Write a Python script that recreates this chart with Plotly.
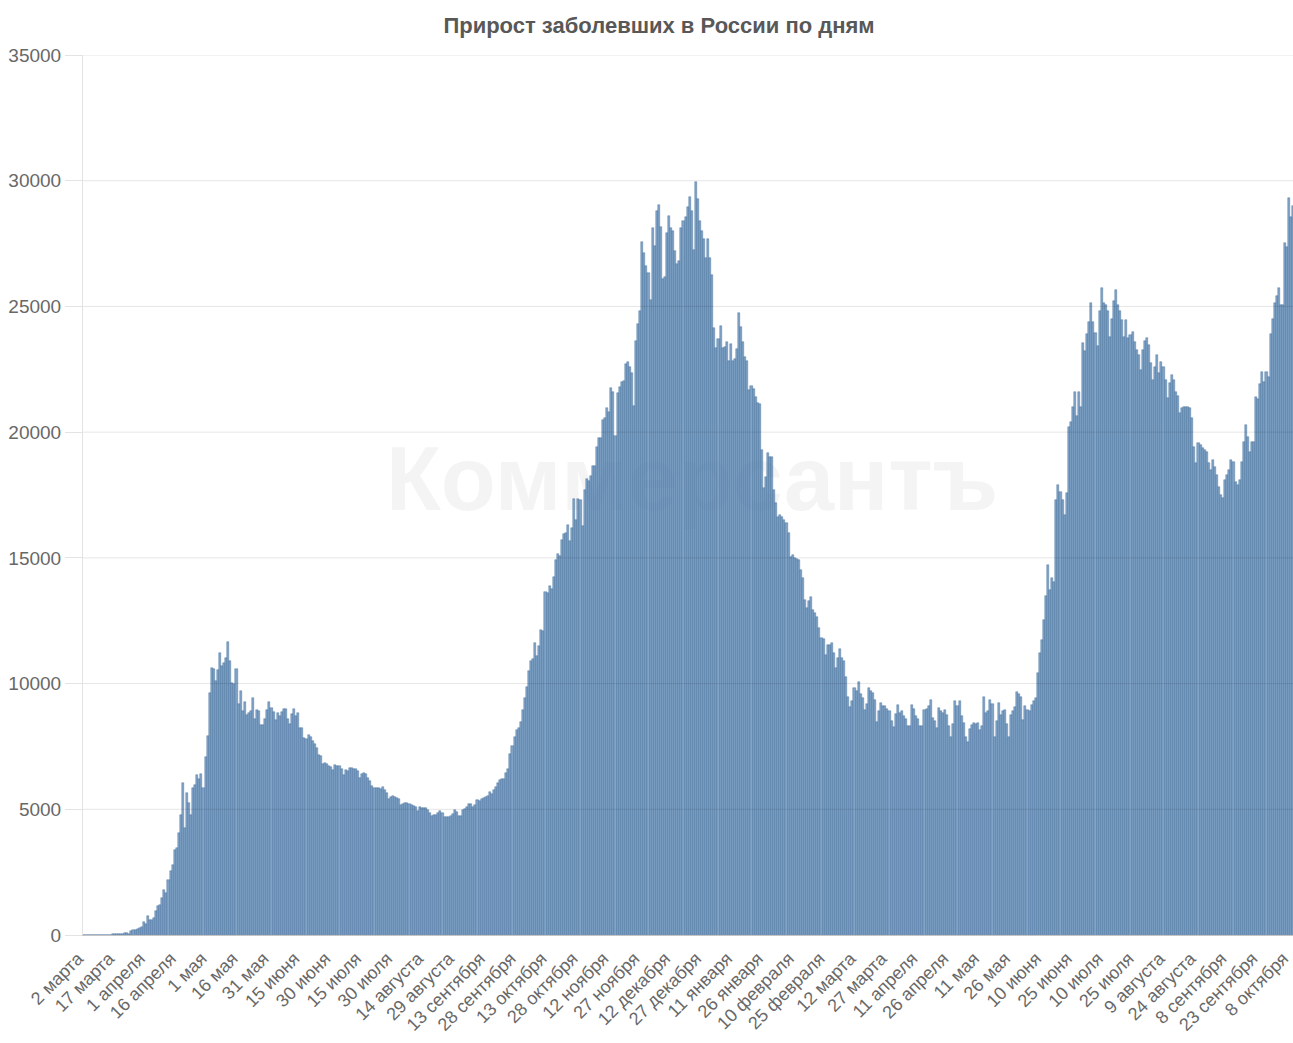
import pandas as pd
import plotly.graph_objects as go

# Daily new cases in Russia, 2 March 2020 - 10 October 2021
mar_2020 = [3, 0, 0, 1, 6, 0, 3, 0, 3, 8, 6, 17, 14, 4, 30, 21, 33, 52, 54, 53, 61, 71, 57, 163, 182, 196, 228, 270, 302, 501]
apr_2020 = [440, 771, 601, 582, 658, 954, 1154, 1175, 1459, 1786, 1667, 2186, 2558, 2774, 3388, 3448, 4070, 4785, 6060, 4268,
            5642, 5236, 4774, 5849, 5966, 6361, 6198, 6411, 5841, 7099]
may_2020 = [7933, 9623, 10633, 10581, 10102, 10559, 11231, 10699, 10817, 11012, 11656, 10899, 10028, 9974, 10598, 9200,
            9709, 8926, 9263, 8764, 8849, 8894, 9434, 8599, 8946, 8915, 8338, 8371, 8572, 8952, 9268]
jun_2020 = [9035, 8863, 8536, 8831, 8726, 8855, 8984, 8985, 8595, 8404, 8779, 8987, 8706, 8835, 8246, 8248, 7843, 7790,
            7972, 7889, 7728, 7600, 7425, 7176, 7113, 6800, 6852, 6791, 6719, 6693]
jul_2020 = [6556, 6760, 6718, 6736, 6611, 6368, 6562, 6509, 6635, 6632, 6615, 6611, 6537, 6248, 6422, 6428, 6406, 6234,
            6109, 5940, 5842, 5862, 5848, 5811, 5871, 5765, 5635, 5395, 5475, 5509, 5482]
aug_2020 = [5462, 5427, 5159, 5204, 5267, 5241, 5212, 5189, 5118, 5102, 4945, 5102, 5057, 5065, 5061, 4969, 4839, 4748,
            4790, 4767, 4870, 4921, 4852, 4696, 4676, 4711, 4747, 4829, 4980, 4897, 4729]
sep_2020 = [4729, 4952, 4995, 5110, 5205, 5195, 5099, 5185, 5363, 5310, 5406, 5449, 5488, 5509, 5670, 5615, 5762, 5905,
            6065, 6148, 6196, 6215, 6431, 6595, 7212, 7523, 7867, 8135, 8232, 8481]
oct_2020 = [8945, 9412, 9859, 10499, 10888, 10980, 11615, 11115, 11493, 12126, 12100, 13634, 13592, 13868, 13754, 14231,
            14922, 15150, 15090, 15700, 15950, 15971, 16319, 15680, 16202, 17340, 16521, 17347, 17300, 16250, 17717]
nov_2020 = [18140, 18070, 18257, 18648, 18665, 19404, 19768, 19770, 20498, 20582, 20977, 20800, 21760, 21608, 19851,
            21550, 21798, 21983, 22050, 22702, 22778, 22572, 22350, 21050, 23610, 24318, 24822, 27543, 27130, 26610]
dec_2020 = [26320, 25260, 28120, 27403, 28782, 29039, 28142, 26097, 26190, 27927, 28585, 28137, 28000, 27200, 26689,
            26809, 28120, 28380, 28552, 28948, 29350, 28800, 27250, 29935, 29258, 28380, 28000, 27700, 26930, 27700, 26930]
jan_2021 = [26250, 24140, 23350, 23700, 24220, 23350, 23400, 23600, 22840, 23490, 22820, 22900, 23300, 24740, 24200,
            23600, 23000, 22820, 21680, 21840, 21700, 21410, 21150, 21100, 19290, 17780, 18200, 19190, 19000, 19000, 17700]
feb_2021 = [17200, 16640, 16700, 16640, 16500, 16370, 15990, 15050, 15100, 15000, 14950, 14900, 14500, 14200, 13330,
            13000, 13300, 13430, 12930, 12800, 12660, 12200, 11800, 11770, 11140, 11530, 11530, 11600]
mar_2021 = [11200, 10620, 11000, 11370, 11010, 10900, 10270, 9480, 9080, 9300, 9820, 9700, 10080, 9600, 9420, 8950,
            9200, 9820, 9700, 9620, 9360, 8490, 8900, 9220, 9100, 9120, 9000, 8900, 8500, 8290, 8800]
apr_2021 = [9160, 8830, 8900, 8700, 8600, 8320, 8300, 9160, 9000, 8700, 8600, 8320, 8300, 8950, 9000, 9100, 9360, 8630,
            8500, 8230, 9020, 8900, 8830, 8950, 8760, 8300, 7890, 8400, 9290, 9100]
may_2021 = [9290, 8700, 8430, 7890, 7690, 8200, 8370, 8430, 8400, 8430, 8170, 8300, 9480, 8830, 8900, 9360, 9200, 7890,
            8500, 9220, 8760, 8900, 8950, 8400, 7890, 8760, 8900, 9080, 9680, 9600, 9480]
jun_2021 = [8560, 9100, 8950, 8900, 9160, 9300, 9420, 10420, 11200, 11730, 12530, 13500, 14720, 13720, 14190, 14050,
            17300, 17900, 17600, 17300, 16700, 17560, 20220, 20420, 21000, 21610, 20630, 21610, 21010, 23540]
jul_2021 = [23210, 23900, 24400, 25130, 24400, 23940, 23410, 24800, 25720, 25130, 25060, 24800, 23800, 24500, 25200,
            25660, 25060, 24800, 24470, 23800, 24470, 23740, 23870, 24000, 23600, 23280, 23070, 22470, 23280, 23610, 23740]
aug_2021 = [23470, 22740, 22080, 22600, 23070, 22340, 22800, 22600, 22080, 21360, 21950, 22280, 22080, 21580, 21420,
            20750, 20950, 21020, 21020, 21000, 20950, 20550, 19420, 18770, 19550, 19490, 19360, 19300, 19230, 18770, 18500]
sep_2021 = [18900, 18600, 18300, 17800, 17500, 17400, 18100, 18300, 18500, 18900, 18800, 18000, 17900, 18100, 18800,
            19600, 20300, 19800, 19200, 19600, 19600, 21400, 21300, 21900, 22400, 22000, 22400, 22200, 23900, 24500]
oct_2021 = [25130, 25400, 25720, 25060, 25060, 27510, 27380, 29300, 28570, 29000]

tick_labels = ["2 марта", "17 марта", "1 апреля", "16 апреля", "1 мая", "16 мая", "31 мая", "15 июня", "30 июня",
               "15 июля", "30 июля", "14 августа", "29 августа", "13 сентября", "28 сентября", "13 октября",
               "28 октября", "12 ноября", "27 ноября", "12 декабря", "27 декабря", "11 января", "26 января",
               "10 февраля", "25 февраля", "12 марта", "27 марта", "11 апреля", "26 апреля", "11 мая", "26 мая",
               "10 июня", "25 июня", "10 июля", "25 июля", "9 августа", "24 августа", "8 сентября",
               "23 сентября", "8 октября"]

y_ticks = [0, 5000, 10000, 15000, 20000, 25000, 30000, 35000]
watermark = "Коммерсантъ"

values = (mar_2020 + apr_2020 + may_2020 + jun_2020 + jul_2020 + aug_2020 + sep_2020 + oct_2020 + nov_2020 + dec_2020
          + jan_2021 + feb_2021 + mar_2021 + apr_2021 + may_2021 + jun_2021 + jul_2021 + aug_2021 + sep_2021 + oct_2021)
start = pd.Timestamp("2020-03-02")
dates = pd.date_range(start, periods=len(values), freq="D")
tick_dates = list(dates[::15][:len(tick_labels)])

W, H = 1293, 1043
ML, MR, MT, MB = 83, 0, 55, 108
n_visible = (W - ML - MR) / 2.06
x_range = [start - pd.Timedelta(hours=12), start + pd.Timedelta(days=n_visible - 0.5)]

FONT = "Liberation Sans, Arial, sans-serif"
TICK_COLOR = "#686868"

fig = go.Figure()
# watermark on the base (hidden) subplot so that the bars cover it
fig.add_trace(go.Scatter(
    x=[(692 - ML) / (W - ML)], y=[(935 - 487) / 880], mode="text", text=["<b>" + watermark + "</b>"],
    textfont=dict(family=FONT, size=90, color="#f4f4f4"), xaxis="x", yaxis="y",
    hoverinfo="skip", showlegend=False,
))
fig.add_trace(go.Bar(
    x=dates, y=values, xaxis="x2", yaxis="y2",
    marker=dict(color="rgba(90,135,180,0.76)", line=dict(color="rgba(62,106,150,0.8)", width=0.5)),
    hoverinfo="x+y", showlegend=False,
))

shapes = []
for v in y_ticks[1:]:
    shapes.append(dict(type="line", xref="paper", x0=0, x1=1, yref="y2", y0=v, y1=v,
                       line=dict(color="rgba(0,0,0,0.10)", width=1), layer="above"))

fig.update_layout(
    width=W, height=H,
    margin=dict(l=ML, r=MR, t=MT, b=MB, pad=0),
    paper_bgcolor="white", plot_bgcolor="white",
    bargap=0,
    title=dict(text="<b>Прирост заболевших в России по дням</b>", x=659 / W, xanchor="center",
               y=1 - 25 / H, yanchor="middle", yref="container",
               font=dict(family=FONT, size=22, color="#585858")),
    shapes=shapes,
    xaxis=dict(range=[0, 1], visible=False, fixedrange=True, automargin=False),
    yaxis=dict(range=[0, 1], visible=False, fixedrange=True, automargin=False),
    xaxis2=dict(overlaying="x", range=x_range, type="date", tickmode="array", tickvals=tick_dates,
                ticktext=tick_labels, tickangle=-45, ticks="", showgrid=False, showline=True,
                linecolor="#c4c4c4", linewidth=1, automargin=False, ticklabeloverflow="allow",
                ticklabelstandoff=5, ticklabelshift=-6,
                tickfont=dict(family=FONT, size=18, color=TICK_COLOR), zeroline=False),
    yaxis2=dict(overlaying="y", range=[0, 35000], tickmode="array", tickvals=y_ticks,
                ticktext=[str(v) for v in y_ticks], showgrid=False, zeroline=False, ticks="outside",
                ticklen=17, tickcolor="#e3e3e3", tickwidth=1, showline=True, linecolor="#e3e3e3",
                linewidth=1, automargin=False,
                tickfont=dict(family=FONT, size=19, color=TICK_COLOR)),
)

fig.write_html("out.html", config={"displayModeBar": False},
               post_script="document.body.style.margin='0';document.body.style.overflow='hidden';")
